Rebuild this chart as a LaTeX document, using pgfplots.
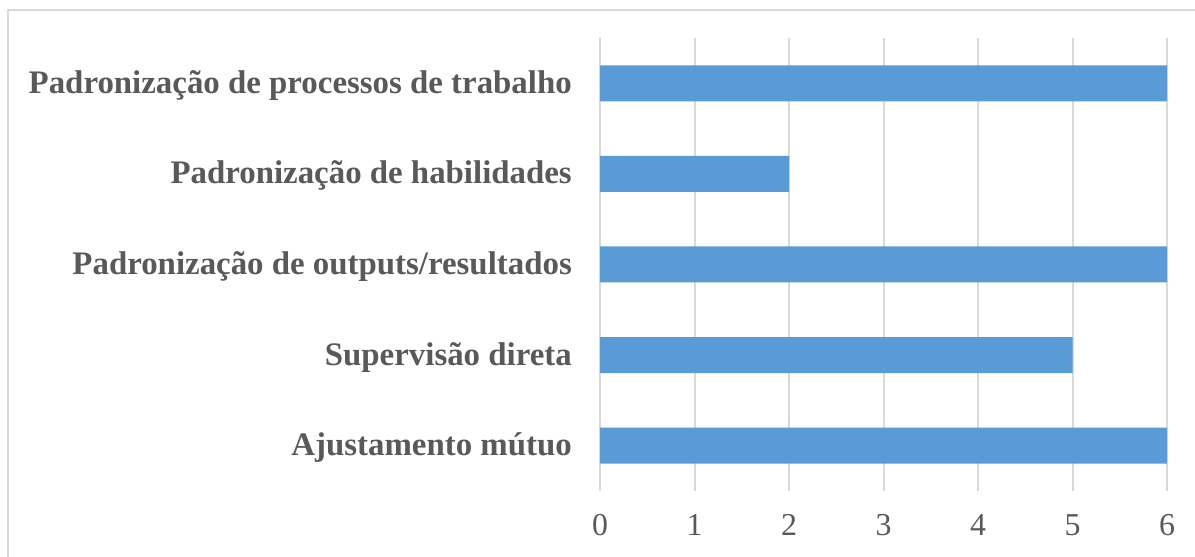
\documentclass[border=0pt]{standalone}
\usepackage{pgfplots}
\pgfplotsset{compat=1.18}
\usepackage{fontspec}
\setmainfont{Liberation Serif}
\definecolor{barblue}{HTML}{5B9BD5}
\definecolor{gridgray}{HTML}{D9D9D9}
\definecolor{txtgray}{HTML}{595959}
\begin{document}
\begin{tikzpicture}[x=1bp,y=1bp]
\useasboundingbox (0,0) rectangle (1195,557);
\begin{scope}
\clip (0,0) rectangle (1195,557);
\draw[gridgray, line width=2.5bp] (8,-20) rectangle (1220,547);
\end{scope}
\begin{axis}[
  at={(600bp,66bp)}, anchor=south west,
  scale only axis, width=567bp, height=453bp,
  xbar, xmin=0, xmax=6, ymin=-0.5, ymax=4.5,
  bar width=36bp,
  axis line style={draw=none},
  xtick={0,1,2,3,4,5,6},
  ytick={0,1,2,3,4},
  yticklabels={Ajustamento mútuo, Supervisão direta, Padronização de outputs/resultados, Padronização de habilidades, Padronização de processos de trabalho},
  major tick length=0pt,
  xmajorgrids,
  grid style={gridgray, line width=2bp},
  /pgf/number format/assume math mode=true,
  xticklabel style={font=\fontsize{32}{32}\selectfont, text=txtgray, anchor=north, inner sep=0pt, yshift=-23bp},
  yticklabel style={font=\bfseries\fontsize{33}{33}\selectfont, text=txtgray, anchor=east, inner sep=0pt, xshift=-28bp, yshift=-2bp},
]
\addplot[fill=barblue, draw=none] coordinates {(6,0) (5,1) (6,2) (2,3) (6,4)};
\end{axis}
\end{tikzpicture}
\end{document}
